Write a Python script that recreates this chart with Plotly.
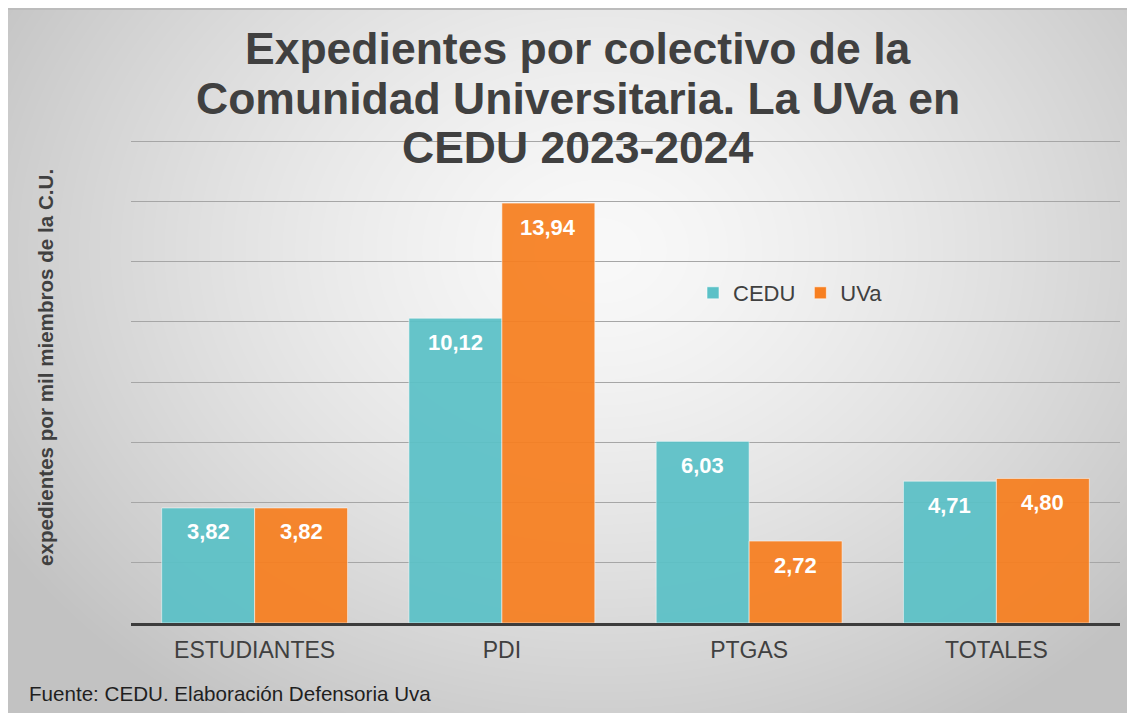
import base64
import struct
import zlib

import numpy as np
import plotly.graph_objects as go

# ---------------- data ----------------
categories = ["ESTUDIANTES", "PDI", "PTGAS", "TOTALES"]
cedu_values = [3.82, 10.12, 6.03, 4.71]
uva_values = [3.82, 13.94, 2.72, 4.80]
series_names = ["CEDU", "UVa"]
title_lines = [
    "Expedientes por colectivo de la",
    "Comunidad Universitaria. La UVa en",
    "CEDU 2023-2024",
]
y_title = "expedientes por mil miembros de la C.U."
source_text = "Fuente: CEDU. Elaboración Defensoria Uva"

# ---------------- geometry / style ----------------
W, H = 1135, 713
ML, MR, MT, MB = 123, 23, 118, 98
PW, PH = W - ML - MR, H - MT - MB
TEAL = "#5bc1c7"
ORANGE = "#f77f20"
TXT = "#404040"
FONT = "Liberation Sans, Arial, sans-serif"


def px_x(p):
    return (p - ML) / PW


def px_y(p):
    return 1 - (p - MT) / PH


# ---------------- background (radial gray gradient) ----------------
def make_png(arr):
    h, w = arr.shape
    raw = b"".join(b"\x00" + arr[i].tobytes() for i in range(h))

    def chunk(tag, data):
        c = struct.pack(">I", len(data)) + tag + data
        return c + struct.pack(">I", zlib.crc32(tag + data) & 0xFFFFFFFF)

    sig = b"\x89PNG\r\n\x1a\n"
    ihdr = struct.pack(">IIBBBBB", w, h, 8, 0, 0, 0, 0)
    return sig + chunk(b"IHDR", ihdr) + chunk(b"IDAT", zlib.compress(raw, 9)) + chunk(b"IEND", b"")


yy, xx = np.mgrid[0:H, 0:W].astype(float)
d = np.sqrt(((xx - 592) / 650) ** 2 + ((yy - 242) / 520) ** 2)
bg = 249 - 49 * d ** 1.4
bg = np.clip(bg, 194, 250)
bg[0:2, :] = 188
bg = bg.astype(np.uint8)
bg_uri = "data:image/png;base64," + base64.b64encode(make_png(bg)).decode()

# ---------------- figure ----------------
fig = go.Figure()
for name, vals, col in [(series_names[0], cedu_values, TEAL), (series_names[1], uva_values, ORANGE)]:
    fig.add_trace(go.Bar(
        name=name, x=categories, y=vals,
        marker=dict(color=col, opacity=0.93, line=dict(color="rgba(255,255,255,0.55)", width=1)),
        hoverinfo="x+y",
    ))

bargap = 0.248
bar_px = (1 - bargap) * PW / len(categories) / 2
annotations = []
for vals, sign in [(cedu_values, -1), (uva_values, 1)]:
    for c, v in zip(categories, vals):
        annotations.append(dict(
            x=c, y=v, xref="x", yref="y", text=f"{v:.2f}".replace(".", ","),
            showarrow=False, xshift=sign * bar_px / 2, yshift=-24, yanchor="middle",
            font=dict(family=FONT, size=22, color="white", weight="bold"),
        ))

for line, ypx in zip(title_lines, [41, 90, 140]):
    annotations.append(dict(
        x=px_x(570), y=px_y(ypx), xref="paper", yref="paper", text=f"<b>{line}</b>",
        showarrow=False, xanchor="center", yanchor="middle",
        font=dict(family=FONT, size=44.5, color=TXT),
    ))

annotations.append(dict(
    x=px_x(37), y=px_y(360), xref="paper", yref="paper", text=f"<b>{y_title}</b>",
    showarrow=False, textangle=-90, xanchor="center", yanchor="middle",
    font=dict(family=FONT, size=20.6, color=TXT),
))
annotations.append(dict(
    x=px_x(19), y=px_y(685), xref="paper", yref="paper", text=source_text,
    showarrow=False, xanchor="left", yanchor="middle",
    font=dict(family=FONT, size=20.6, color="#1f1f1f"),
))

fig.update_layout(
    width=W, height=H,
    margin=dict(l=ML, r=MR, t=MT, b=MB, pad=0),
    paper_bgcolor="white", plot_bgcolor="rgba(0,0,0,0)",
    barmode="group", bargap=bargap, bargroupgap=0,
    separators=",.",
    font=dict(family=FONT, color=TXT),
    showlegend=True,
    legend=dict(
        orientation="h", x=px_x(685), y=px_y(285), xanchor="left", yanchor="middle",
        bgcolor="rgba(0,0,0,0)", font=dict(family=FONT, size=22, color=TXT),
        itemwidth=30, traceorder="normal",
    ),
    annotations=annotations,
    images=[dict(
        source=bg_uri, xref="paper", yref="paper",
        x=-ML / PW, y=1 + MT / PH, sizex=W / PW, sizey=H / PH,
        xanchor="left", yanchor="top", sizing="stretch", layer="below",
    )],
)
fig.update_xaxes(
    showline=True, linecolor="#3c3c3c", linewidth=2.5, ticks="",
    tickfont=dict(family=FONT, size=23, color=TXT), ticklabelstandoff=5,
    showgrid=False, zeroline=False,
)
fig.update_yaxes(
    range=[0, 16.5], dtick=2, showticklabels=False, showgrid=True,
    gridcolor="#a6a6a6", gridwidth=1.2, zeroline=False, showline=False, ticks="",
)

fig.write_html("out.html")
